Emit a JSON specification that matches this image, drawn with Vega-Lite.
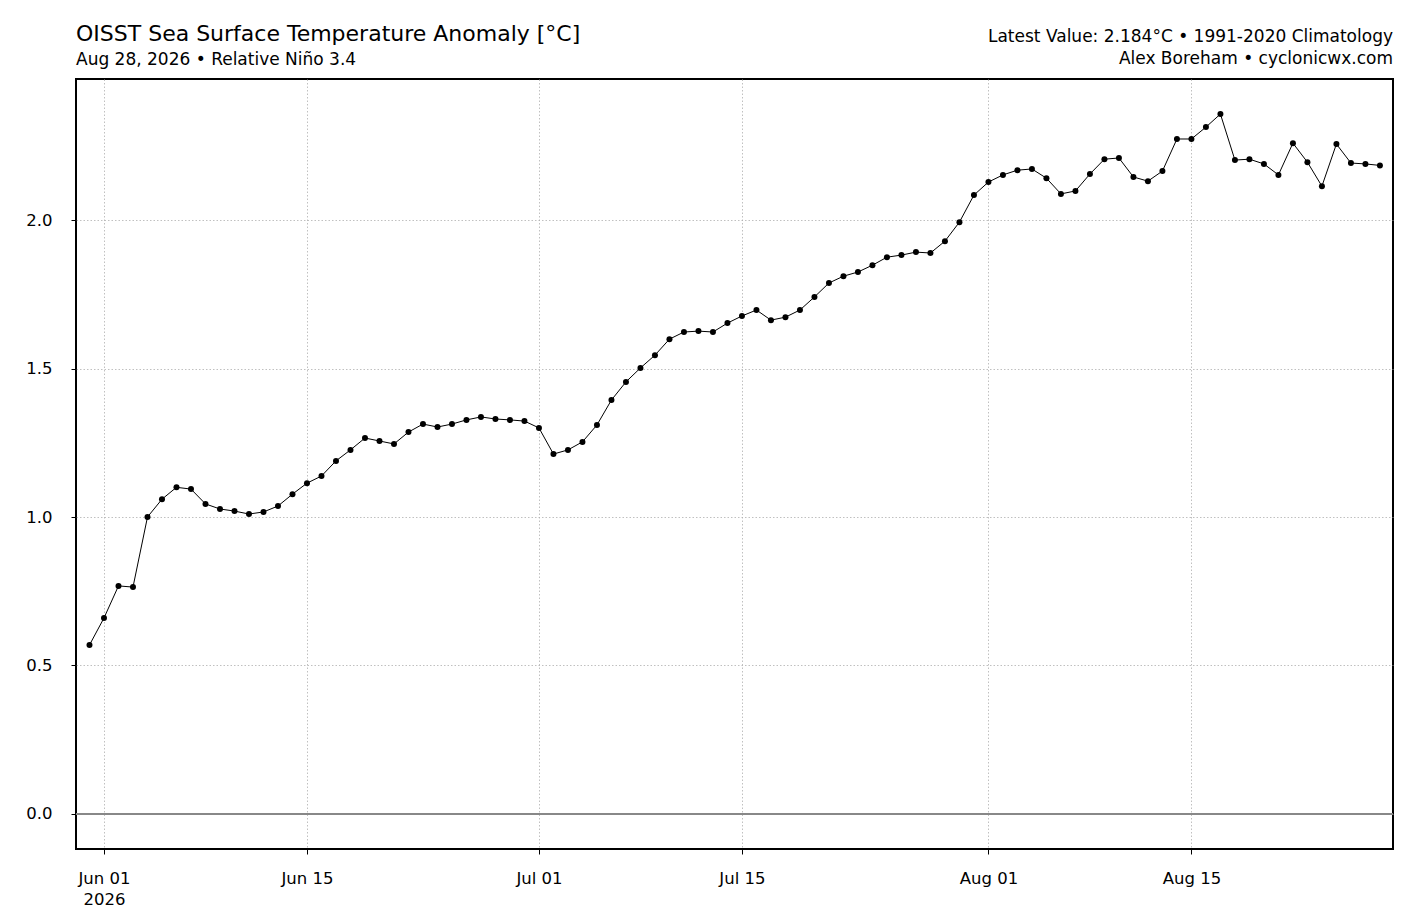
{
"$schema":"https://vega.github.io/schema/vega-lite/v6.json",
"width":1317,"height":770,
"autosize":{"type":"none"},
"padding":{"left":76,"top":79,"right":24,"bottom":67},
"background":"white",
"config":{"font":"DejaVu Sans","view":{"stroke":"black","strokeWidth":2},
"axis":{"labelFont":"DejaVu Sans","labelFontSize":16.5,"labelColor":"black","tickColor":"black","tickSize":5,"domain":false,"grid":true,"gridColor":"#b0b0b0","gridDash":[1.5,2],"gridWidth":0.8,"title":null}},
"title":{"text":"OISST Sea Surface Temperature Anomaly [°C]","subtitle":"Aug 28, 2026 • Relative Niño 3.4","anchor":"start","frame":"group","fontSize":22,"font":"DejaVu Sans","fontWeight":"normal","subtitleFont":"DejaVu Sans","subtitleFontSize":17,"subtitleColor":"black","offset":0,"dy":41,"subtitlePadding":6},
"data":{"values":[
{"d":"2026-05-31","v":0.569},{"d":"2026-06-01","v":0.66},{"d":"2026-06-02","v":0.768},{"d":"2026-06-03","v":0.764},{"d":"2026-06-04","v":1.0},{"d":"2026-06-05","v":1.06},{"d":"2026-06-06","v":1.1},{"d":"2026-06-07","v":1.094},{"d":"2026-06-08","v":1.044},{"d":"2026-06-09","v":1.027},{"d":"2026-06-10","v":1.02},{"d":"2026-06-11","v":1.01},{"d":"2026-06-12","v":1.017},{"d":"2026-06-13","v":1.037},{"d":"2026-06-14","v":1.077},{"d":"2026-06-15","v":1.114},{"d":"2026-06-16","v":1.138},{"d":"2026-06-17","v":1.189},{"d":"2026-06-18","v":1.226},{"d":"2026-06-19","v":1.266},{"d":"2026-06-20","v":1.256},{"d":"2026-06-21","v":1.246},{"d":"2026-06-22","v":1.286},{"d":"2026-06-23","v":1.313},{"d":"2026-06-24","v":1.303},{"d":"2026-06-25","v":1.313},{"d":"2026-06-26","v":1.327},{"d":"2026-06-27","v":1.337},{"d":"2026-06-28","v":1.33},{"d":"2026-06-29","v":1.327},{"d":"2026-06-30","v":1.323},
{"d":"2026-07-01","v":1.3},{"d":"2026-07-02","v":1.212},{"d":"2026-07-03","v":1.226},{"d":"2026-07-04","v":1.253},{"d":"2026-07-05","v":1.31},{"d":"2026-07-06","v":1.394},{"d":"2026-07-07","v":1.455},{"d":"2026-07-08","v":1.502},{"d":"2026-07-09","v":1.545},{"d":"2026-07-10","v":1.599},{"d":"2026-07-11","v":1.623},{"d":"2026-07-12","v":1.626},{"d":"2026-07-13","v":1.623},{"d":"2026-07-14","v":1.653},{"d":"2026-07-15","v":1.677},{"d":"2026-07-16","v":1.697},{"d":"2026-07-17","v":1.663},{"d":"2026-07-18","v":1.673},{"d":"2026-07-19","v":1.697},{"d":"2026-07-20","v":1.741},{"d":"2026-07-21","v":1.788},{"d":"2026-07-22","v":1.811},{"d":"2026-07-23","v":1.825},{"d":"2026-07-24","v":1.848},{"d":"2026-07-25","v":1.875},{"d":"2026-07-26","v":1.882},{"d":"2026-07-27","v":1.892},{"d":"2026-07-28","v":1.889},{"d":"2026-07-29","v":1.929},{"d":"2026-07-30","v":1.993},{"d":"2026-07-31","v":2.084},
{"d":"2026-08-01","v":2.128},{"d":"2026-08-02","v":2.152},{"d":"2026-08-03","v":2.168},{"d":"2026-08-04","v":2.172},{"d":"2026-08-05","v":2.141},{"d":"2026-08-06","v":2.088},{"d":"2026-08-07","v":2.098},{"d":"2026-08-08","v":2.155},{"d":"2026-08-09","v":2.205},{"d":"2026-08-10","v":2.209},{"d":"2026-08-11","v":2.145},{"d":"2026-08-12","v":2.131},{"d":"2026-08-13","v":2.165},{"d":"2026-08-14","v":2.273},{"d":"2026-08-15","v":2.273},{"d":"2026-08-16","v":2.313},{"d":"2026-08-17","v":2.357},{"d":"2026-08-18","v":2.202},{"d":"2026-08-19","v":2.205},{"d":"2026-08-20","v":2.189},{"d":"2026-08-21","v":2.152},{"d":"2026-08-22","v":2.259},{"d":"2026-08-23","v":2.195},{"d":"2026-08-24","v":2.114},{"d":"2026-08-25","v":2.256},{"d":"2026-08-26","v":2.192},{"d":"2026-08-27","v":2.189},{"d":"2026-08-28","v":2.184}
]},
"encoding":{
"x":{"field":"d","type":"temporal","timeUnit":"utcyearmonthdate","scale":{"domain":["2026-05-30T01:40:00Z","2026-08-28T21:40:00Z"],"type":"utc"},
 "axis":{"values":["2026-06-01T00:00:00Z","2026-06-15T00:00:00Z","2026-07-01T00:00:00Z","2026-07-15T00:00:00Z","2026-08-01T00:00:00Z","2026-08-15T00:00:00Z"],"labelExpr":"utcmonth(datum.value)==5 && utcdate(datum.value)==1 ? ['Jun 01','2026'] : utcFormat(datum.value,'%b %d')","labelPadding":16,"labelLineHeight":21}},
"y":{"field":"v","type":"quantitative","scale":{"domain":[-0.118,2.475],"nice":false,"zero":false},"axis":{"values":[0,0.5,1,1.5,2],"format":".1f","labelPadding":19}}
},
"layer":[
{"mark":{"type":"rule","color":"#888888","strokeWidth":1.2},"encoding":{"y":{"datum":0},"x":null}},
{"mark":{"type":"line","color":"black","strokeWidth":1}},
{"mark":{"type":"point","filled":true,"color":"black","size":36,"opacity":1}},
{"data":{"values":[{"t":"Latest Value: 2.184°C • 1991-2020 Climatology\nAlex Boreham • cyclonicwx.com"}]},"mark":{"type":"text","align":"right","baseline":"top","fontSize":17,"font":"DejaVu Sans","lineHeight":22,"lineBreak":"\n","x":1317,"y":-50},"encoding":{"x":null,"y":null,"text":{"field":"t"}}}
]
}
